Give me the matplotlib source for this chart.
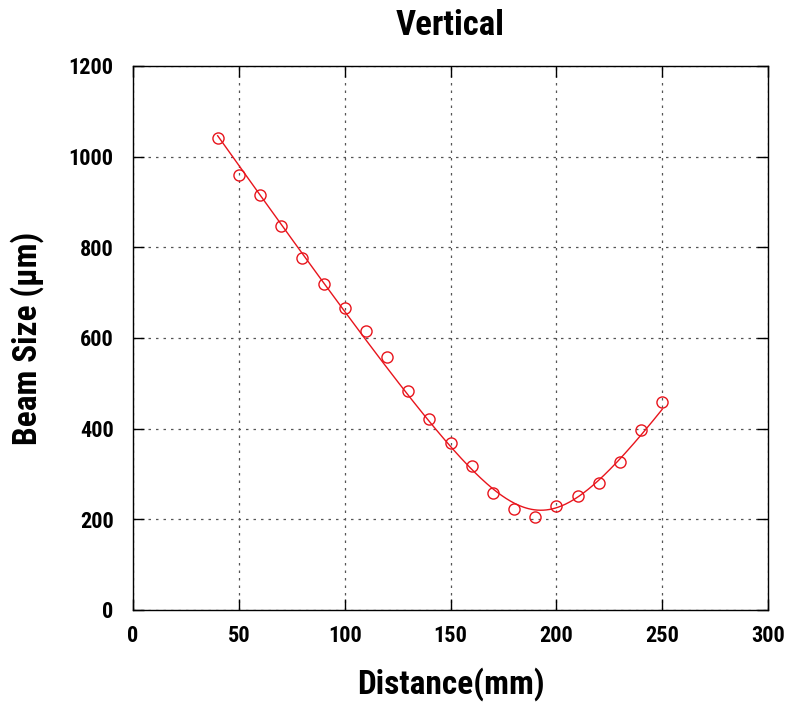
import numpy as np
import matplotlib
matplotlib.use("Agg")
import matplotlib.pyplot as plt
from matplotlib import font_manager

distance_mm = [40, 50, 60, 70, 80, 90, 100, 110, 120, 130, 140, 150,
               160, 170, 180, 190, 200, 210, 220, 230, 240, 250]
beam_size_um = [1041, 960, 915, 847, 776, 719, 666, 615, 558, 483, 421, 368,
                318, 258, 223, 205, 229, 251, 280, 326, 397, 459]

x_ticks = [0, 50, 100, 150, 200, 250, 300]
y_ticks = [0, 200, 400, 600, 800, 1000, 1200]

names = {f.name for f in font_manager.fontManager.ttflist}
main = 'Roboto Condensed' if 'Roboto Condensed' in names else 'DejaVu Sans'
plt.rcParams['font.family'] = [main, 'DejaVu Sans']

fig = plt.figure(figsize=(7.86, 7.04), dpi=100)
ax = fig.add_axes([133/786, 94/704, 635/786, 544/704])

# hyperbolic beam-size fit  w = sqrt(a + b (z - c)^2), least squares on w
xd = np.array(distance_mm, float)
yd = np.array(beam_size_um, float)
A, B, C = np.polyfit(xd, yd**2, 2)
c = -B / (2 * A)
p = np.array([C - A * c**2, A, c])
lam = 1e-3
def model(p, x):
    return np.sqrt(np.maximum(p[0] + p[1] * (x - p[2])**2, 1e-9))
for _ in range(200):
    f = model(p, xd)
    r = yd - f
    J = np.column_stack([1/(2*f), (xd - p[2])**2/(2*f), -p[1]*(xd - p[2])/f])
    JTJ = J.T @ J
    g = J.T @ r
    step = np.linalg.solve(JTJ + lam*np.diag(np.diag(JTJ)), g)
    pn = p + step
    if np.sum((yd - model(pn, xd))**2) < np.sum(r**2):
        p = pn
        lam *= 0.5
    else:
        lam *= 4
xf = np.linspace(xd.min(), xd.max(), 300)
yf = model(p, xf)

red = '#e8141c'
ax.plot(xf, yf, color=red, lw=1.0)
ax.plot(xd, yd, 'o', mfc='none', mec=red, ms=8, mew=1.0)

ax.set_xlim(0, 300)
ax.set_ylim(0, 1200)
ax.set_xticks(x_ticks)
ax.set_yticks(y_ticks)
ax.tick_params(axis='both', direction='in', length=8, width=1, labelsize=16,
               top=True, right=True)
ax.tick_params(axis='x', pad=11)
ax.tick_params(axis='y', pad=14)
for lab in ax.get_xticklabels() + ax.get_yticklabels():
    lab.set_fontweight('bold')
ax.grid(True, color='#555555', linestyle=(0, (2, 4)), linewidth=0.9)
for s in ax.spines.values():
    s.set_linewidth(1.0)
    s.set_color('black')

ax.set_title('Vertical', fontsize=25, fontweight='bold', pad=22)
ax.set_xlabel('Distance(mm)', fontsize=24, fontweight='bold', labelpad=14)
ax.set_ylabel('Beam Size (μm)', fontsize=24, fontweight='bold', labelpad=18)

fig.savefig('out.png', dpi=100)
